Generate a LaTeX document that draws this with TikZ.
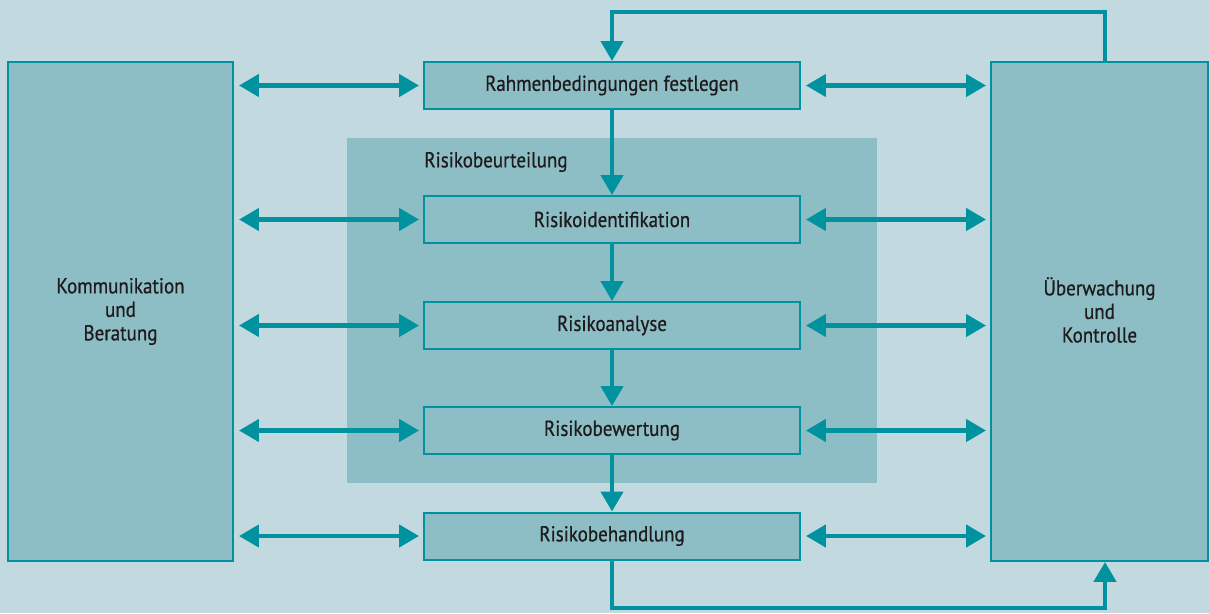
\documentclass[tikz,border=0pt]{standalone}
\usepackage{fontspec}
\setmainfont{PT Sans}[FakeStretch=0.88,FakeBold=0.6]
\usetikzlibrary{arrows.meta}
\definecolor{bgc}{HTML}{C2DADF}
\definecolor{boxc}{HTML}{8DBEC5}
\definecolor{tealc}{HTML}{00929F}
\definecolor{txtc}{HTML}{1E1B1C}
\tikzset{
  lbl/.style={text=txtc, font=\fontsize{12.3}{13.4}\selectfont},
  box/.style={draw=tealc, line width=0.04cm, fill=boxc, lbl, inner sep=0pt},
  stepbox/.style={box, minimum width=7.52cm, minimum height=0.94cm},
  sidebox/.style={box, minimum height=9.98cm, align=center},
  conn/.style={draw=tealc, line width=0.09cm},
  tip/.style={-{Triangle[length=0.4cm,width=0.44cm]}},
  dtip/.style={{Triangle[length=0.4cm,width=0.44cm]}-{Triangle[length=0.4cm,width=0.44cm]}, shorten <=0.1cm, shorten >=0.08cm}
}
\begin{document}
\begin{tikzpicture}[x=0.02cm,y=-0.02cm]
\fill[bgc] (0,0) rectangle (1209,613);
\useasboundingbox (0,0) rectangle (1209,613);
\fill[boxc] (347,138) rectangle (877,483);
\node[anchor=west, lbl, inner sep=0pt] (rbl) at (424,162) {Risikobeurteilung};

\node[sidebox, minimum width=4.5cm] (kb) at (120.5,311.5) {Kommunikation\\und\\Beratung};
\node[sidebox, minimum width=4.34cm] (ue) at (1099.5,311.5) {\smash{Ü}berwachung\\und\\Kontrolle};

\node[stepbox] (rb) at (612,85.5) {Rahmenbedingungen festlegen};
\node[stepbox] (ri) at (612,219.5) {Risikoidentifikation};
\node[stepbox] (ra) at (612,325.5) {Risikoanalyse};
\node[stepbox] (rw) at (612,430.5) {Risikobewertung};
\node[stepbox] (rh) at (612,536) {Risikobehandlung};

\foreach \n in {rb,ri,ra,rw,rh}{
  \draw[conn, dtip] (kb.east |- \n.west) -- (\n.west);
  \draw[conn, dtip] (\n.east) -- (ue.west |- \n.east);
}
\draw[conn, tip] (rb.south) -- (ri.north);
\draw[conn, tip] (ri.south) -- (ra.north);
\draw[conn, tip] (ra.south) -- (rw.north);
\draw[conn, tip] (rw.south) -- (rh.north);

\coordinate (tr) at (1105,12);
\coordinate (br) at (1105,608);
\draw[conn, tip] (ue.north -| tr) -- (tr) -| (rb.north);
\draw[conn, tip] (rh.south) |- (br) -- (ue.south -| br);
\end{tikzpicture}
\end{document}
